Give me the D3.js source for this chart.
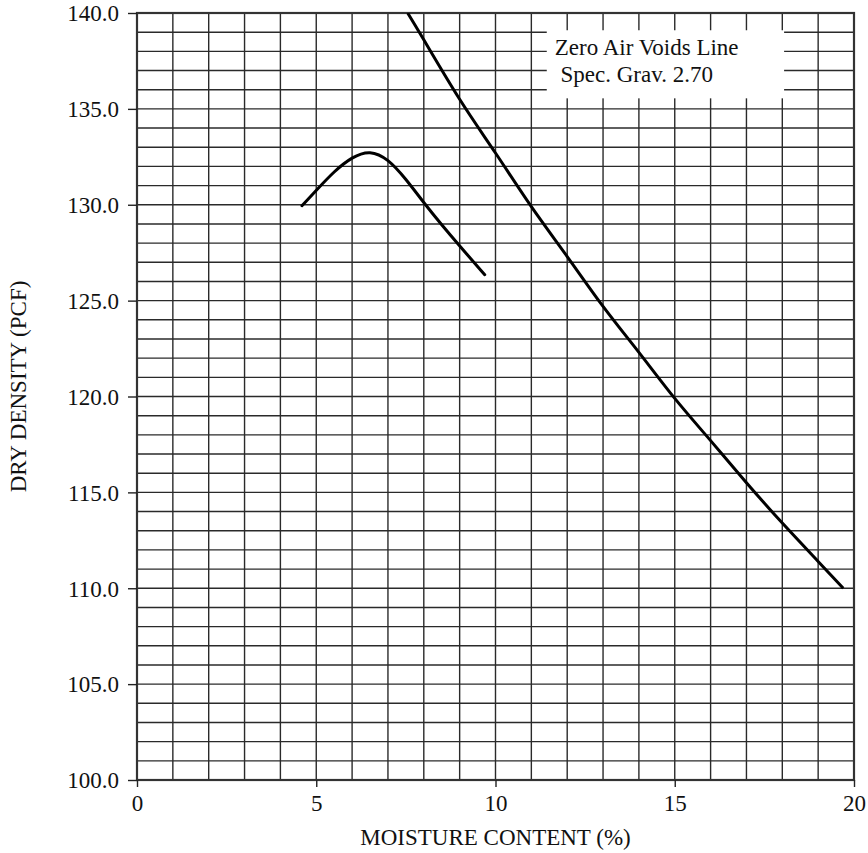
<!DOCTYPE html>
<html>
<head>
<meta charset="utf-8">
<script src="https://cdn.jsdelivr.net/npm/d3@7"></script>
<style>
html,body{margin:0;padding:0;background:#fff;}
svg{display:block;}
text{font-family:"Liberation Serif","Times New Roman",serif;fill:#111;}
</style>
</head>
<body>
<svg id="chart" width="868" height="853"></svg>
<script>
// ---- data ----
const xTicks = [0, 5, 10, 15, 20];
const yTicks = [100, 105, 110, 115, 120, 125, 130, 135, 140];
const zavMoisture = [7.55, 8, 9, 10, 11, 12, 13, 14, 15, 16, 17, 18, 19, 19.7];
const zavDensity  = [140.0, 138.6, 135.5, 132.7, 129.9, 127.3, 124.7, 122.3, 119.9, 117.7, 115.5, 113.4, 111.4, 110.0];
const curveMoisture = [4.6, 5.0, 5.5, 6.0, 6.5, 7.0, 7.5, 8.0, 8.5, 9.0, 9.7];
const curveDensity  = [129.95, 130.75, 131.75, 132.5, 132.85, 132.4, 131.35, 130.1, 128.95, 127.85, 126.35];
const annotation = ["Zero Air Voids Line", " Spec. Grav. 2.70"];
const xTitle = "MOISTURE CONTENT (%)";
const yTitle = "DRY DENSITY (PCF)";

const svg = d3.select("#chart");
const m = {left: 137, top: 13, right: 14, bottom: 73};
const W = 868 - m.left - m.right, H = 853 - m.top - m.bottom;
const x = d3.scaleLinear().domain([0, 20]).range([0, W]);
const y = d3.scaleLinear().domain([100, 140]).range([H, 0]);
const g = svg.append("g").attr("transform", `translate(${m.left},${m.top})`);
const FS = 23;

// grid
const gridColor = "#2a2a2a";
g.append("g").selectAll("line").data(d3.range(1, 20)).join("line")
  .attr("x1", d => x(d)).attr("x2", d => x(d)).attr("y1", 0).attr("y2", H)
  .attr("stroke", gridColor).attr("stroke-width", 1.4);
g.append("g").selectAll("line").data(d3.range(101, 140)).join("line")
  .attr("x1", 0).attr("x2", W).attr("y1", d => y(d)).attr("y2", d => y(d))
  .attr("stroke", gridColor).attr("stroke-width", 1.4);

// annotation box (white background covering grid)
const bx0 = x(11.43), bx1 = x(18.05), by0 = y(139.1), by1 = y(135.55);
g.append("rect").attr("x", bx0).attr("y", by0).attr("width", bx1 - bx0).attr("height", by1 - by0)
  .attr("fill", "#fff");

// frame
g.append("rect").attr("x", 0).attr("y", 0).attr("width", W).attr("height", H)
  .attr("fill", "none").attr("stroke", "#333").attr("stroke-width", 2.2);

// axes
const xAxis = d3.axisBottom(x).tickValues(xTicks).tickSize(7).tickPadding(8).tickFormat(d3.format("d"));
const yAxis = d3.axisLeft(y).tickValues(yTicks).tickSize(9).tickPadding(9).tickFormat(d3.format(".1f"));
const gx = g.append("g").attr("transform", `translate(0,${H})`).call(xAxis);
const gy = g.append("g").call(yAxis);
[gx, gy].forEach(a => {
  a.select(".domain").remove();
  a.selectAll(".tick line").attr("stroke", "#222").attr("stroke-width", 1.4);
  a.selectAll("text").attr("font-size", FS).attr("fill", "#111");
});
gy.selectAll("text").attr("dy", "0.34em");

// lines
svg.append("defs").append("clipPath").attr("id", "clip")
  .append("rect").attr("x", 0).attr("y", 0).attr("width", W).attr("height", H);
const line = d3.line().x(d => x(d[0])).y(d => y(d[1])).curve(d3.curveNatural);
g.append("path").datum(zavMoisture.map((w, i) => [w, zavDensity[i]]))
  .attr("d", line).attr("fill", "none").attr("stroke", "#000").attr("stroke-width", 3)
  .attr("clip-path", "url(#clip)");
g.append("path").datum(curveMoisture.map((w, i) => [w, curveDensity[i]]))
  .attr("d", d3.line().x(d => x(d[0])).y(d => y(d[1])).curve(d3.curveBasis))
  .attr("fill", "none").attr("stroke", "#000").attr("stroke-width", 3)
  .attr("stroke-linejoin", "round").attr("stroke-linecap", "round");

// annotation text
g.append("text").attr("x", bx0 + 8).attr("y", y(137.8)).attr("font-size", FS)
  .attr("xml:space", "preserve").style("white-space", "pre").text(annotation[0]);
g.append("text").attr("x", bx0 + 8).attr("y", y(136.4)).attr("font-size", FS)
  .attr("xml:space", "preserve").style("white-space", "pre").text(annotation[1]);

// titles
svg.append("text").attr("x", m.left + W / 2).attr("y", 845).attr("text-anchor", "middle")
  .attr("font-size", FS).text(xTitle);
svg.append("text").attr("transform", `translate(26,${m.top + H / 2 - 10}) rotate(-90)`)
  .attr("text-anchor", "middle").attr("font-size", FS).text(yTitle);
</script>
</body>
</html>
